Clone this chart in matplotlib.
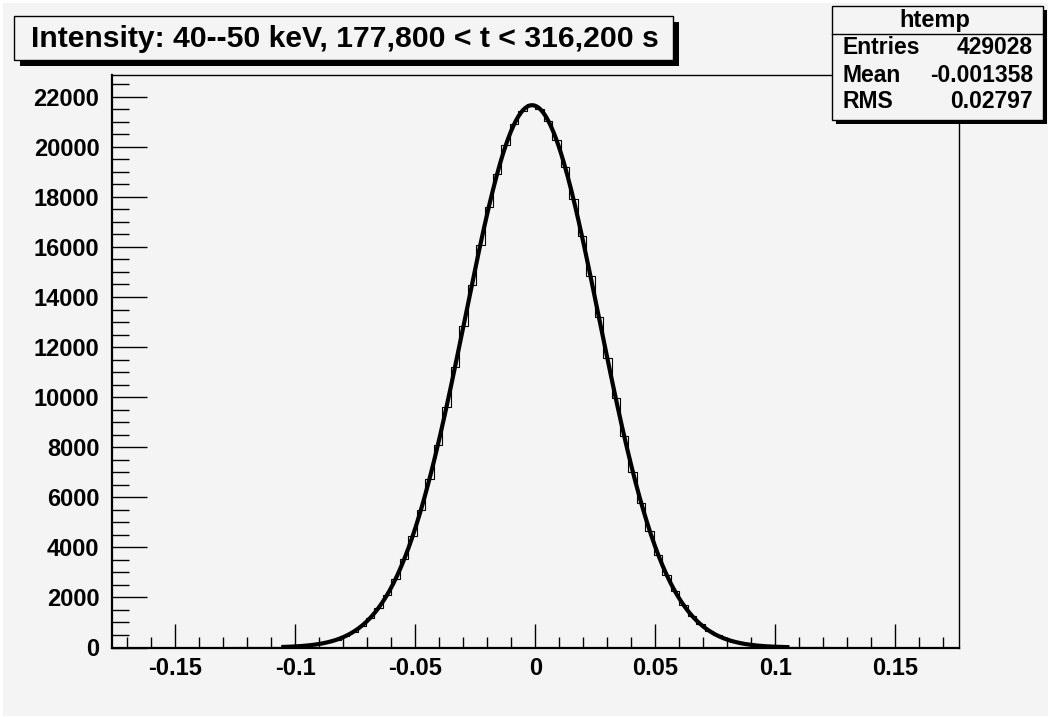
import numpy as np
import matplotlib
matplotlib.use('Agg')
from matplotlib import pyplot as plt
from matplotlib import font_manager
from matplotlib.patches import Rectangle

# histogram: 100 bins over [-0.1764, 0.1764]
x_lo, x_hi, n_bins = -0.1764, 0.1764, 100
counts = [0] * 14 + [
    1, 2, 4, 6, 10, 16, 26, 41, 63, 96,
    144, 211, 310, 445, 626, 868, 1185, 1590, 2110, 2745,
    3520, 4440, 5500, 6730, 8105, 9590, 11190, 12830, 14470, 16090,
    17600, 18920, 20060, 20900, 21450, 21700, 21520, 21050, 20280, 19200,
    17920, 16440, 14850, 13210, 11550, 9950, 8430, 7030, 5770, 4670,
    3710, 2910, 2240, 1700, 1270, 930, 675, 480, 336, 232,
    157, 105, 69, 45, 29, 18, 11, 7, 4, 2, 1,
]
counts += [0] * (n_bins - len(counts))
fit_range = (-0.105, 0.105)

title = 'Intensity: 40--50 keV, 177,800 < t < 316,200 s'
stats_name = 'htemp'
stats_rows = [('Entries', '429028'), ('Mean', '-0.001358'), ('RMS', '0.02797')]
y_ticks = list(range(0, 22001, 2000))
x_ticks = [-0.15, -0.1, -0.05, 0, 0.05, 0.1, 0.15]
x_ticklabels = ['-0.15', '-0.1', '-0.05', '0', '0.05', '0.1', '0.15']

names = {f.name for f in font_manager.fontManager.ttflist}
narrow = 'Liberation Sans Narrow' if 'Liberation Sans Narrow' in names else 'Liberation Sans'
plt.rcParams['font.family'] = ['Liberation Sans', 'DejaVu Sans']

W, H = 1051, 717
bg = '#f4f4f4'
fig = plt.figure(figsize=(W / 100, H / 100), dpi=100, facecolor='white')
fig.patches.append(Rectangle((3 / W, 1 / H), (W - 6) / W, (H - 4) / H,
                             transform=fig.transFigure, facecolor=bg,
                             edgecolor='none', zorder=0))

def px_box(x0, y0, x1, y1, **kw):
    # rectangle given in pixel coords measured from top-left
    r = Rectangle((x0 / W, 1 - y1 / H), (x1 - x0) / W, (y1 - y0) / H,
                  transform=fig.transFigure, **kw)
    fig.patches.append(r)
    return r

ax = fig.add_axes([112 / W, 1 - 647.5 / H, 846.7 / W, 572.8 / H])
ax.set_zorder(1)
ax.set_facecolor(bg)

edges = np.linspace(x_lo, x_hi, n_bins + 1)
counts = np.array(counts, dtype=float)
ax.stairs(counts, edges, color='black', lw=0.8, zorder=2)

# gaussian fit from the histogram moments
centers = 0.5 * (edges[:-1] + edges[1:])
bw = edges[1] - edges[0]
mu = np.sum(centers * counts) / counts.sum()
sig = np.sqrt(np.sum(counts * (centers - mu) ** 2) / counts.sum())
amp = counts.sum() * bw / (sig * np.sqrt(2 * np.pi))
xf = np.linspace(fit_range[0], fit_range[1], 400)
ax.plot(xf, amp * np.exp(-0.5 * ((xf - mu) / sig) ** 2), color='black', lw=3, zorder=3)

ax.set_xlim(x_lo, x_hi)
ax.set_ylim(0, 22880)
ax.set_xticks(x_ticks)
ax.set_xticklabels(x_ticklabels)
ax.set_xticks(np.arange(-0.17, 0.175, 0.01), minor=True)
ax.set_yticks(y_ticks)
ax.set_yticks(np.arange(0, 22800, 500), minor=True)
for lab in ax.get_xticklabels() + ax.get_yticklabels():
    lab.set_fontweight('bold')
ax.tick_params(axis='x', which='major', direction='in', length=17, width=1, labelsize=17, pad=7)
ax.tick_params(axis='x', which='minor', direction='in', length=8, width=1)
ax.tick_params(axis='y', which='major', direction='in', length=25, width=1, labelsize=17, pad=9)
ax.tick_params(axis='y', which='minor', direction='in', length=12, width=1)
for s in ['left', 'bottom']:
    ax.spines[s].set_linewidth(1.6)
for s in ['top', 'right']:
    ax.spines[s].set_linewidth(1.0)

# title box with shadow
px_box(20, 22, 679, 66, facecolor='black', edgecolor='none', zorder=5)
px_box(14, 16, 673, 60, facecolor=bg, edgecolor='black', lw=1, zorder=6)
fig.text(345 / W, 1 - 39 / H, title, ha='center', va='center', fontsize=21.7,
         fontweight='bold', family=[narrow, 'DejaVu Sans'], zorder=7)

# stats box
px_box(836, 10, 1047, 124, facecolor='black', edgecolor='none', zorder=5)
px_box(832, 6, 1043, 120, facecolor=bg, edgecolor='black', lw=1, zorder=6)
fig.add_artist(plt.Line2D([832 / W, 1043 / W], [1 - 34 / H, 1 - 34 / H],
                          transform=fig.transFigure, color='black', lw=1, zorder=7))
fig.text(935 / W, 1 - 21 / H, stats_name, ha='center', va='center', fontsize=17,
         fontweight='bold', zorder=7)
for i, (k, v) in enumerate(stats_rows):
    y = 1 - (48 + 27 * i) / H
    fig.text(843 / W, y, k, ha='left', va='center', fontsize=16.5, fontweight='bold', zorder=7)
    fig.text(1033 / W, y, v, ha='right', va='center', fontsize=16.5, fontweight='bold', zorder=7)

fig.savefig('out.png', dpi=100, facecolor='white')
